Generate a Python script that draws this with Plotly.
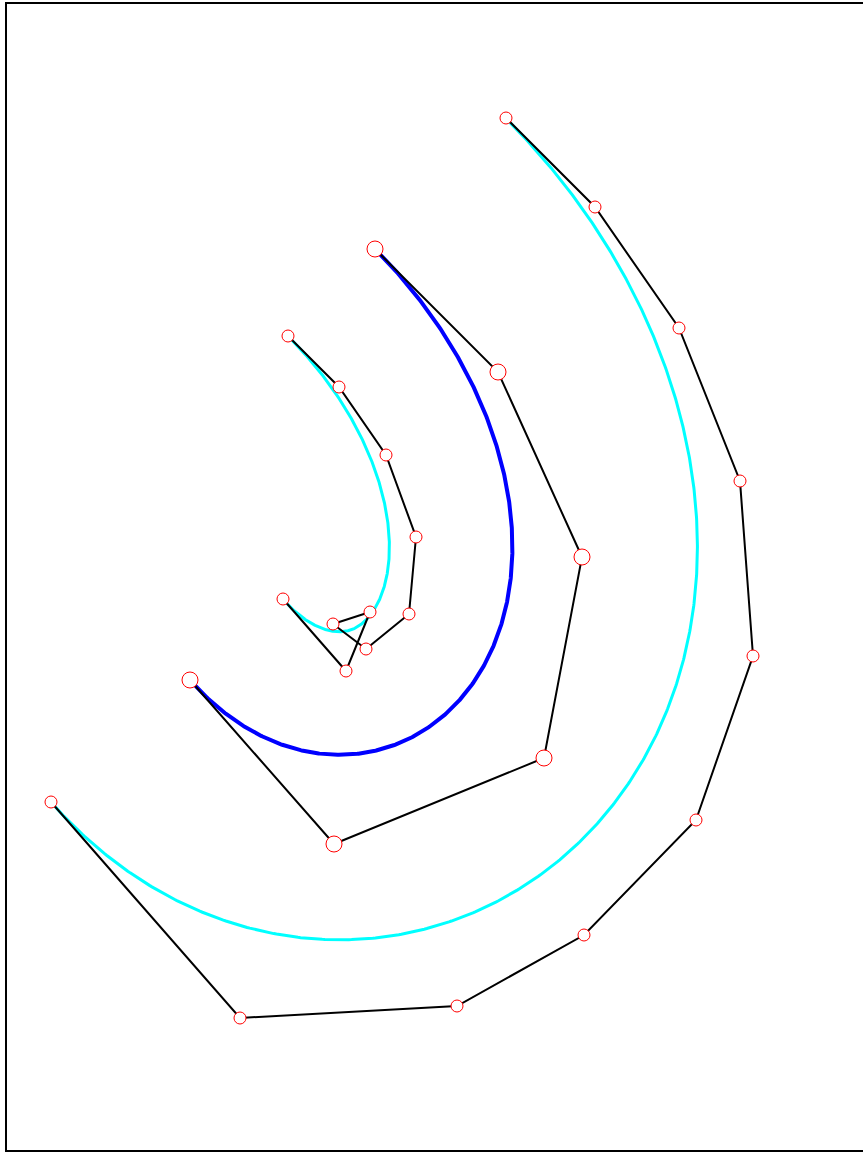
import numpy as np
import plotly.graph_objects as go
from math import comb

# Control points (pixel-like units, y measured downward)
outer_x = [506, 595, 679, 740, 753, 696, 584, 457, 240, 51]
outer_y = [118, 207, 328, 481, 656, 820, 935, 1006, 1018, 802]

mid_x = [375, 498, 582, 544, 334, 190]
mid_y = [249, 372, 557, 758, 844, 680]

inner_x = [288, 339, 386, 416, 409, 366, 333, 370, 346, 283]
inner_y = [336, 387, 455, 537, 614, 649, 624, 612, 671, 599]

# offset distances of the cyan curves from the blue base curve
outer_offset = 185
inner_offset = -123


def bezier(xs, ys, n=600):
    t = np.linspace(0, 1, n)
    d = len(xs) - 1
    bx = np.zeros(n)
    by = np.zeros(n)
    dx = np.zeros(n)
    dy = np.zeros(n)
    for i, (x, y) in enumerate(zip(xs, ys)):
        b = comb(d, i) * t**i * (1 - t) ** (d - i)
        bx += b * x
        by += b * y
    for i in range(d):
        b = comb(d - 1, i) * t**i * (1 - t) ** (d - 1 - i)
        dx += d * b * (xs[i + 1] - xs[i])
        dy += d * b * (ys[i + 1] - ys[i])
    return bx, by, dx, dy


def offset_curve(xs, ys, dist):
    bx, by, dx, dy = bezier(xs, ys)
    nrm = np.hypot(dx, dy)
    return bx + dist * dy / nrm, by - dist * dx / nrm


fig = go.Figure()

mx, my, _, _ = bezier(mid_x, mid_y)
ox, oy = offset_curve(mid_x, mid_y, outer_offset)
ix, iy = offset_curve(mid_x, mid_y, inner_offset)

curves = [(ox, oy, "cyan", 3), (mx, my, "blue", 4), (ix, iy, "cyan", 3)]
for cx, cy, col, lw in curves:
    fig.add_trace(go.Scatter(x=cx, y=cy, mode="lines",
                             line=dict(color=col, width=lw), hoverinfo="skip"))

polys = [(outer_x, outer_y, 12), (mid_x, mid_y, 16), (inner_x, inner_y, 12)]
for xs, ys, ms in polys:
    fig.add_trace(go.Scatter(x=xs, y=ys, mode="lines",
                             line=dict(color="black", width=2), hoverinfo="skip"))
for xs, ys, ms in polys:
    fig.add_trace(go.Scatter(x=xs, y=ys, mode="markers",
                             marker=dict(size=ms, color="white", symbol="circle",
                                         line=dict(color="red", width=1)),
                             hoverinfo="skip"))

fig.update_layout(
    width=863, height=1152,
    margin=dict(l=0, r=0, t=0, b=0),
    paper_bgcolor="white", plot_bgcolor="white",
    showlegend=False,
    xaxis=dict(range=[0, 863], visible=False),
    yaxis=dict(range=[1152, 0], visible=False),
)

W, H = 863.0, 1152.0
border = dict(color="black", width=2)
fig.add_shape(type="line", xref="paper", yref="paper",
              x0=6 / W, x1=6 / W, y0=1 - 2 / H, y1=1 - 1152 / H, line=border)
fig.add_shape(type="line", xref="paper", yref="paper",
              x0=5 / W, x1=1, y0=1 - 3 / H, y1=1 - 3 / H, line=border)
fig.add_shape(type="line", xref="paper", yref="paper",
              x0=5 / W, x1=1, y0=1 - 1151 / H, y1=1 - 1151 / H, line=border)

fig.write_html("out.html", config={"displayModeBar": False},
               post_script="document.body.style.margin='0px';document.body.style.overflow='hidden';")
